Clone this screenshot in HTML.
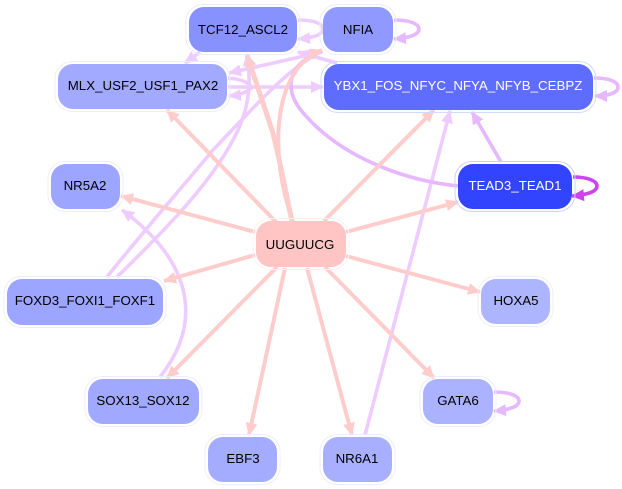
<!DOCTYPE html>
<html><head><meta charset="utf-8"><style>
html,body{margin:0;padding:0;background:#fff;width:622px;height:489px;overflow:hidden}
svg{display:block}
text{font-family:"Liberation Sans",sans-serif;font-size:13.3px;text-anchor:middle;fill:#000}
.halo{fill:none;stroke:#eceeff;stroke-width:1}
.p{fill:none;stroke:#ffcccc;stroke-width:4}
.l{fill:none;stroke:#eeccff;stroke-width:3.6}
.m{fill:none;stroke:#e5b8ff;stroke-width:3.6}
</style></head><body>
<svg width="622" height="489" viewBox="0 0 622 489" xmlns="http://www.w3.org/2000/svg">
<defs>
<marker id="ap" markerUnits="userSpaceOnUse" markerWidth="14" markerHeight="14" refX="12" refY="6" orient="auto"><path d="M0 0L13 6L0 12z" fill="#ffcccc"/></marker>
<marker id="al" markerUnits="userSpaceOnUse" markerWidth="14" markerHeight="14" refX="12" refY="6" orient="auto"><path d="M0 0L13 6L0 12z" fill="#eeccff"/></marker>
<marker id="am" markerUnits="userSpaceOnUse" markerWidth="14" markerHeight="14" refX="12" refY="6" orient="auto"><path d="M0 0L13 6L0 12z" fill="#e5b8ff"/></marker>
<marker id="at" markerUnits="userSpaceOnUse" markerWidth="14" markerHeight="14" refX="12" refY="6" orient="auto"><path d="M0 0L13 6L0 12z" fill="#cc44ee"/></marker>
</defs>

<!-- lavender edges -->
<path class="l" d="M107 277C140 235 180 190 213 150C250 112 285 70 322 51"/>
<path class="l" d="M117 277C165 230 215 180 238 130C252 100 250 75 247 54" marker-end="url(#al)"/>
<path class="l" d="M160 377C205 320 190 260 122 210" marker-end="url(#al)"/>
<path class="l" d="M365 435L450 111" marker-end="url(#al)"/>
<path class="l" d="M200 52L185 63" marker-end="url(#al)"/>
<path class="l" d="M322 52L229 73" marker-end="url(#al)"/>
<path class="l" d="M337 63L298 52" marker-end="url(#al)"/>
<path class="l" d="M228 87H323" marker-end="url(#al)"/>
<path class="l" d="M228 78C240 79 248 82 252 87C248 92 240 95 229 96" marker-end="url(#al)"/>
<path class="l" d="M298 20C315 20 323 24 323 29C323 35 312 38 298 39" marker-end="url(#al)"/>
<path class="m" d="M458 186C400 180 340 155 305 115C280 88 290 62 322 51" />
<path class="m" d="M394 20C410 20 419 24 419 29C419 35 408 38 394 39" marker-end="url(#am)"/>
<path class="m" d="M594 78C610 78 618 82 618 87C618 93 608 96 595 96" marker-end="url(#am)"/>
<path class="m" d="M494 392C510 392 519 396 519 401C519 407 508 410 494 411" marker-end="url(#am)"/>
<path class="m" d="M501 162L472 112" marker-end="url(#am)"/>
<path d="M573 177C588 177 597 181 597 186C597 192 586 195 572 196" fill="none" stroke="#cc44ee" stroke-width="3.6" marker-end="url(#at)"/>

<!-- pink edges -->
<path class="p" style="stroke-width:5" d="M292 221C285 190 278 150 272 130L247 55" marker-end="url(#ap)"/>
<path class="p" d="M293 221C270 160 270 70 322 50" marker-end="url(#ap)"/>
<path class="p" d="M276 222L167 110" marker-end="url(#ap)"/>
<path class="p" d="M255 232L121 196" marker-end="url(#ap)"/>
<path class="p" d="M255 255L164 281" marker-end="url(#ap)"/>
<path class="p" d="M277 267L167 378" marker-end="url(#ap)"/>
<path class="p" d="M285 268L249 435" marker-end="url(#ap)"/>
<path class="p" d="M307 268L352 435" marker-end="url(#ap)"/>
<path class="p" d="M325 267L434 378" marker-end="url(#ap)"/>
<path class="p" d="M346 256L480 292" marker-end="url(#ap)"/>
<path class="p" d="M324 221L434 110" marker-end="url(#ap)"/>
<path class="p" d="M346 232L458 202" marker-end="url(#ap)"/>

<!-- nodes -->
<g>
<rect class="halo" x="186" y="4.5" width="114" height="50" rx="17"/><rect x="189" y="7" width="108" height="45" rx="15" fill="#8892ff"/><text x="243" y="34">TCF12_ASCL2</text>
<rect class="halo" x="320" y="4.5" width="76" height="50" rx="17"/><rect x="323" y="7" width="70" height="45" rx="15" fill="#8f99ff"/><text x="358" y="34">NFIA</text>
<rect class="halo" x="55" y="61.5" width="175" height="50" rx="17"/><rect x="58" y="64" width="169" height="45" rx="15" fill="#a2aaff"/><text x="143" y="90">MLX_USF2_USF1_PAX2</text>
<rect style="stroke:#d5d9ff" class="halo" x="321" y="61.5" width="275" height="51" rx="17"/><rect x="324" y="64" width="269" height="46" rx="15" fill="#5f6dff"/><text x="458" y="90" style="fill:#fff">YBX1_FOS_NFYC_NFYA_NFYB_CEBPZ</text>
<rect style="stroke:#ccd0ff" class="halo" x="455" y="161.500" width="120" height="50" rx="17"/><rect x="458" y="164" width="114" height="45" rx="15" fill="#3344ff"/><text x="515" y="190" style="fill:#fff">TEAD3_TEAD1</text>
<rect style="stroke:#fff0f0" class="halo" x="253" y="218.500" width="96" height="51" rx="17"/><rect x="256" y="221" width="90" height="46" rx="15" fill="#ffc4c4"/><text x="300" y="249">UUGUUCG</text>
<rect class="halo" x="48" y="161.500" width="75" height="50" rx="17"/><rect x="51" y="164" width="69" height="45" rx="15" fill="#9ca5ff"/><text x="85" y="190">NR5A2</text>
<rect class="halo" x="4" y="276.500" width="162" height="51" rx="17"/><rect x="7" y="279" width="156" height="46" rx="15" fill="#9ca5ff"/><text x="85" y="305">FOXD3_FOXI1_FOXF1</text>
<rect class="halo" x="85" y="376.500" width="117" height="50" rx="17"/><rect x="88" y="379" width="111" height="45" rx="15" fill="#a0a8ff"/><text x="143" y="405">SOX13_SOX12</text>
<rect class="halo" x="205" y="434.500" width="75" height="50" rx="17"/><rect x="208" y="437" width="69" height="45" rx="15" fill="#a4acff"/><text x="243" y="463">EBF3</text>
<rect class="halo" x="320" y="434.500" width="75" height="50" rx="17"/><rect x="323" y="437" width="69" height="45" rx="15" fill="#a8afff"/><text x="357" y="463">NR6A1</text>
<rect class="halo" x="420" y="376.500" width="76" height="50" rx="17"/><rect x="423" y="379" width="70" height="45" rx="15" fill="#abb2ff"/><text x="458" y="405">GATA6</text>
<rect class="halo" x="478" y="276.500" width="75" height="50" rx="17"/><rect x="481" y="279" width="69" height="45" rx="15" fill="#aeb5ff"/><text x="516" y="305">HOXA5</text>
</g>
</svg>
</body></html>
